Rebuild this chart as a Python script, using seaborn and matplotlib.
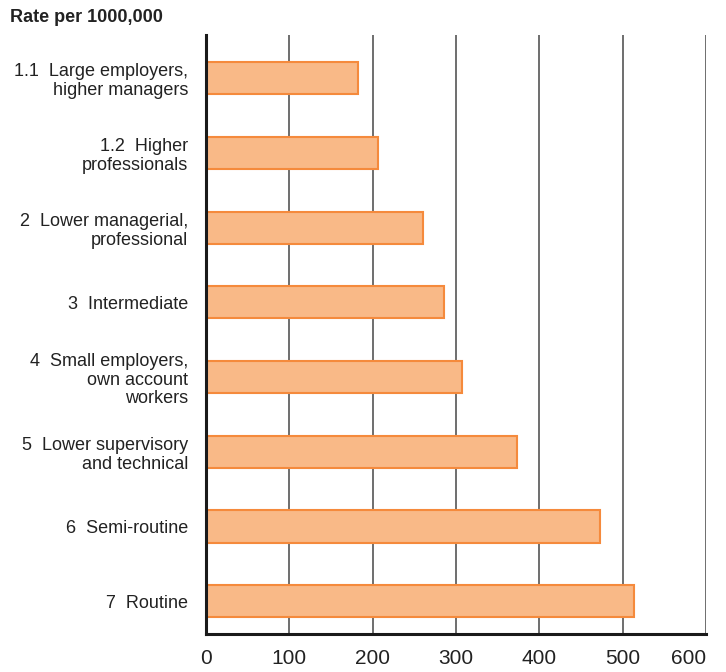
import numpy as np
import pandas as pd
import matplotlib
matplotlib.use('Agg')
import matplotlib.pyplot as plt
import seaborn as sns

# Data
categories = ['1.1  Large employers,\nhigher managers',
              '1.2  Higher\nprofessionals',
              '2  Lower managerial,\nprofessional',
              '3  Intermediate',
              '4  Small employers,\nown account\nworkers',
              '5  Lower supervisory\nand technical',
              '6  Semi-routine',
              '7  Routine']
rates = [182, 206, 260, 286, 307, 373, 473, 514]
xticks = [0, 100, 200, 300, 400, 500, 600]

df = pd.DataFrame({'category': categories, 'rate': rates})

sns.set_style('white')
plt.rcParams['font.family'] = ['Liberation Sans', 'DejaVu Sans']

fig = plt.figure(figsize=(7.26, 6.72), dpi=100)
ax = fig.add_axes([206 / 726, 38 / 672, 500 / 726, 599 / 672])

sns.barplot(data=df, x='rate', y='category', orient='h', ax=ax,
            color='#F9B987', edgecolor='#F58A3C', linewidth=1.5,
            width=0.43, saturation=1)

ax.set_xlim(0, 600)
ax.set_ylim(7.44, -0.58)
ax.set_xticks(xticks)
ax.set_xticklabels([str(t) for t in xticks], fontsize=15, color='#222222')
ax.tick_params(axis='x', length=5, width=1, color='#444444', pad=6)
ax.tick_params(axis='y', length=0, pad=13, labelsize=13, labelcolor='#222222')
for lab in ax.get_yticklabels():
    lab.set_horizontalalignment('right')
    lab.set_multialignment('right')
    lab.set_linespacing(1.15)
ax.get_xticklabels()[-1].set_horizontalalignment('right')

ax.xaxis.grid(True, color='#555555', linewidth=1.2)
ax.set_axisbelow(True)
ax.set_xlabel('')
ax.set_ylabel('')

for side in ['top', 'right']:
    ax.spines[side].set_visible(False)
for side in ['left', 'bottom']:
    ax.spines[side].set_color('#1a1a1a')
    ax.spines[side].set_linewidth(2.2)

fig.text(10 / 726, 1 - 18 / 672, 'Rate per 1000,000', fontsize=13,
         fontweight='bold', va='center', ha='left', color='#222222')

fig.savefig('out.png', dpi=100)
